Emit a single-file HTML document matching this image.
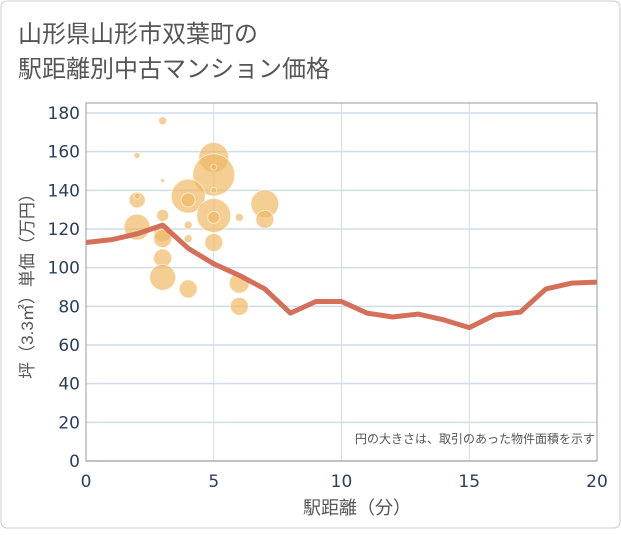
<!DOCTYPE html>
<html><head><meta charset="utf-8"><style>
body{margin:0;background:#fff;}
svg text{font-family:"Liberation Sans","Noto Sans CJK JP",sans-serif;}
svg text.tk{font-family:"DejaVu Sans","Liberation Sans",sans-serif;}
</style></head><body>
<svg id="chart" width="621" height="530" xmlns="http://www.w3.org/2000/svg">
<rect x="1" y="1" width="619" height="527" rx="6" fill="#fff" stroke="#ccc"/>
<text x="18" y="42" font-size="24" fill="#555">山形県山形市双葉町の</text>
<text x="18" y="77" font-size="24" fill="#555">駅距離別中古マンション価格</text>
<g id="grid"></g>
<g id="bubbles"></g>
<g id="line"></g>
<rect x="86" y="103" width="511" height="358" fill="none" stroke="#999"/>
<g id="ticks"></g>
<text x="595" y="443" font-size="12" fill="#555" text-anchor="end">円の大きさは、取引のあった物件面積を示す</text>
<text x="357" y="514" font-size="18" fill="#555" text-anchor="middle">駅距離（分）</text>
<text transform="translate(33,282) rotate(-90)" font-size="17" fill="#555" text-anchor="middle">坪（3.3㎡）単価（万円）</text>
</svg>
<script>
const xTicks=[0,5,10,15,20];
const yTicks=[0,20,40,60,80,100,120,140,160,180];
const lineX=[0,1,2,3,4,5,6,7,8,9,10,11,12,13,14,15,16,17,18,19,20];
const lineY=[113,114.5,117.5,122,110,102,96,89,76.5,82.5,82.5,76.5,74.5,76,73,69,75.5,77,89,92,92.5];
const bubX=[3,2,5,5,5,3,4,4,5,2,2,7,7,5,5,6,3,2,4,3,3,4,5,3,3,4,6,6];
const bubY=[176,158,157,148,152,145,137,135,140,135,137,133,125,127,126,126,127,121,122,118,115,115,113,105,95,89,92,80];
const bubR=[4,3,15,21,3,2,17,7,3,8,3,14,9,17,6,4,6,13,4,9,9,4,9,9,13,9,10,9];
const NS="http://www.w3.org/2000/svg";
const X=v=>86+v*(511/20);
const Y=v=>461-v*(348/180);
const grid=document.getElementById('grid'),ticks=document.getElementById('ticks');
function mk(tag,attrs,parent){const e=document.createElementNS(NS,tag);for(const k in attrs)e.setAttribute(k,attrs[k]);parent.appendChild(e);return e;}
yTicks.forEach(t=>{
 const l=mk('line',{x1:86,x2:597,y1:Y(t),y2:Y(t),stroke:'#cfdcea','stroke-width':1.5},grid);
 
 
 const tx=mk('text',{x:80,y:Y(t)+6,'font-size':17,fill:'#2a3f5f','text-anchor':'end','class':'tk'},ticks);
 tx.textContent=t;
 
 
});
xTicks.forEach(t=>{
 if(t>0&&t<20){const l=mk('line',{x1:X(t),x2:X(t),y1:103,y2:461,stroke:'#cfdcea','stroke-width':1},grid);
 
 }
 const tx=mk('text',{x:X(t),y:487,'font-size':17,fill:'#2a3f5f','text-anchor':'middle','class':'tk'},ticks);
 tx.textContent=t;
 
 
});
const bg=document.getElementById('bubbles');
bubX.forEach((x,i)=>{
 const c=mk('circle',{cx:X(x),cy:Y(bubY[i]),r:bubR[i],fill:'rgba(240,185,100,0.7)',stroke:'rgba(255,255,255,0.6)','stroke-width':1},bg);
 
 
});
const lg=document.getElementById('line');
const p=mk('polyline',{points:lineX.map((x,i)=>X(x)+','+Y(lineY[i])).join(' '),fill:'none',stroke:'#d4705a','stroke-width':5,'stroke-linejoin':'round'},lg);


</script>
</body></html>
